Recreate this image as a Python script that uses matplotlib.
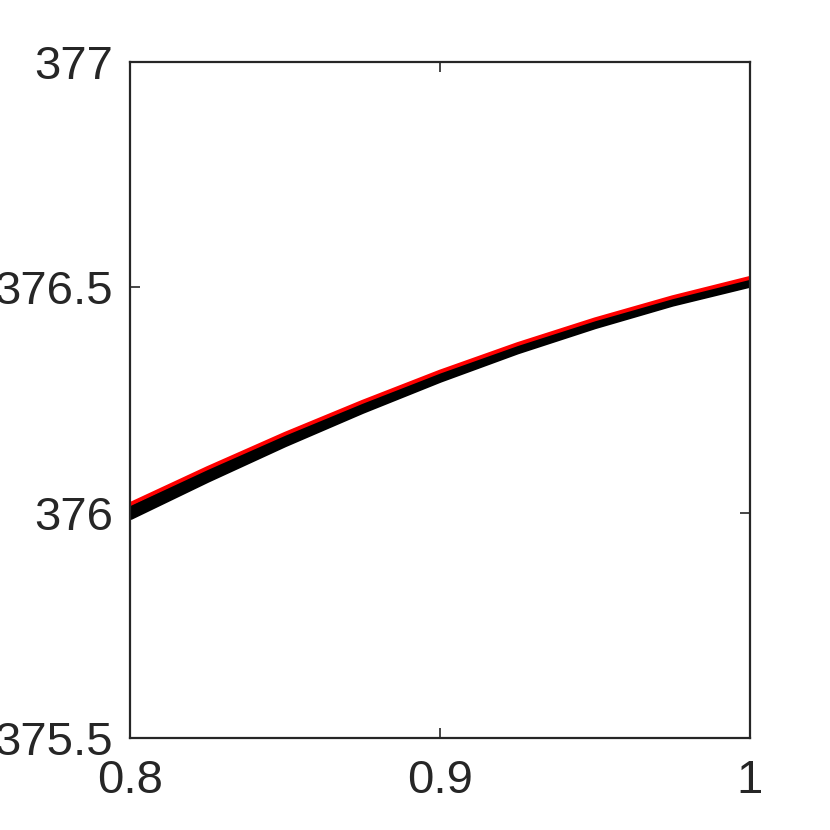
import numpy as np
import matplotlib.pyplot as plt

# valores
x = [0.8, 0.825, 0.85, 0.875, 0.9, 0.925, 0.95, 0.975, 1.0]
rojo = [376.019, 376.099, 376.175, 376.246, 376.313, 376.374, 376.429, 376.478, 376.521]
negro1 = [376.008, 376.089, 376.166, 376.238, 376.305, 376.366, 376.421, 376.470, 376.512]
negro2 = [375.998, 376.080, 376.158, 376.231, 376.299, 376.361, 376.417, 376.466, 376.508]
negro3 = [375.990, 376.073, 376.152, 376.226, 376.295, 376.358, 376.414, 376.464, 376.506]

xticks = [0.8, 0.9, 1.0]
xlabels = ['0.8', '0.9', '1']
yticks = [375.5, 376, 376.5, 377]
ylabels = ['375.5', '376', '376.5', '377']

plt.rcParams['font.family'] = ['Liberation Sans', 'DejaVu Sans']

fig = plt.figure(figsize=(8.3, 8.3), dpi=100)
ax = fig.add_axes([130 / 830, 92 / 830, 620 / 830, 676 / 830])

for serie in (negro3, negro2, negro1):
    ax.plot(x, serie, color='black', linewidth=4.5, solid_capstyle='butt',
            solid_joinstyle='round')
ax.plot(x, rojo, color='#ff0000', linewidth=2.8, solid_capstyle='butt',
        solid_joinstyle='round')

ax.set_xlim(0.8, 1.0)
ax.set_ylim(375.5, 377)
ax.set_xticks(xticks)
ax.set_xticklabels(xlabels)
ax.set_yticks(yticks)
ax.set_yticklabels(ylabels)

gris = '#262626'
for s in ax.spines.values():
    s.set_color(gris)
    s.set_linewidth(1.6)
ax.tick_params(direction='in', length=7, width=1.2, colors=gris, labelsize=34,
               top=True, right=True)
ax.tick_params(axis='x', pad=15)
ax.tick_params(axis='y', pad=12)

fig.savefig('out.png', dpi=100)
